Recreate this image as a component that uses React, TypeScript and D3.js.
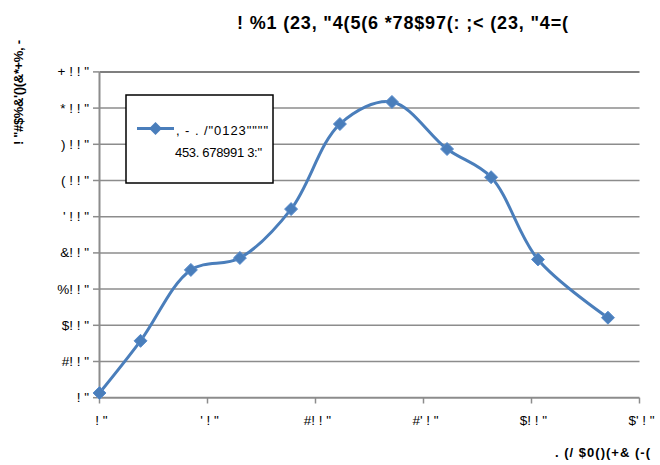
import React from "react";
import * as d3 from "d3";

const xValues = [0, 19, 42.3, 65, 88.7, 111.3, 135.4, 160.9, 181.3, 203, 235.4];
const yValues = [13, 157, 353, 386, 521, 756, 817, 687, 609, 382, 221];
const xTicks = [0, 50, 100, 150, 200, 250];
const xTickLabels = ['! "', '\' ! "', '#! ! "', '#\' ! "', '$! ! "', '$\' ! "'];
const yTicks = [0, 100, 200, 300, 400, 500, 600, 700, 800, 900];
const yTickLabels = ['! "', '#! ! "', '$! ! "', '%! ! "', '&! ! "', '\' ! ! "', '( ! ! "', ') ! ! "', '* ! ! "', '+ ! ! "'];
const titleText = '! %1 (23, "4(5(6 *78$97(: ;< (23, "4=(';
const yTitleText = '! "#$%&\'()(&*+%, -';
const xTitleText = '. (/ $0()(+& (-(';
const legendLine1 = ', - . /"0123""""';
const legendLine2 = '453. 678991 3:"';

export default function App() {
  const W = 660, H = 465;
  const x = d3.scaleLinear().domain([0, 250]).range([99.5, 639.5]);
  const y = d3.scaleLinear().domain([0, 900]).range([397.7, 71.9]);
  const pts: [number, number][] = xValues.map((v, i) => [x(v), y(yValues[i])]);
  const line = d3.line().curve(d3.curveCatmullRom.alpha(0.5))(pts) || "";
  const font = "'Liberation Sans', Arial, sans-serif";
  const blue = "#4A7EBB";
  const diamond = (cx: number, cy: number, r: number) =>
    `M${cx},${cy - r}L${cx + r},${cy}L${cx},${cy + r}L${cx - r},${cy}Z`;
  return (
    <svg width={W} height={H} style={{ position: "absolute", left: 0, top: 0, background: "#fff" }} fontFamily={font}>
      <rect width={W} height={H} fill="#fff" />
      <text x={237} y={29} fontSize={18} fontWeight="bold" fill="#000" textLength={331} lengthAdjust="spacing">{titleText}</text>
      <text transform="translate(23,145) rotate(-90)" fontSize={13} fontWeight="bold" fill="#000" textLength={105} lengthAdjust="spacing">{yTitleText}</text>
      <text x={555} y={457} fontSize={13} fontWeight="bold" fill="#000" textLength={95} lengthAdjust="spacing">{xTitleText}</text>
      {yTicks.map((t, i) => (
        <g key={"y" + t}>
          {i > 0 && <line x1={99.5} x2={639.5} y1={y(t)} y2={y(t)} stroke={i === yTicks.length - 1 ? "#555" : "#8c8c8c"} strokeWidth={1.5} />}
          <line x1={93} x2={99.5} y1={y(t)} y2={y(t)} stroke="#8c8c8c" strokeWidth={1.5} />
          <text x={89} y={y(t) + 4.5} textAnchor="end" fontSize={13.5} fill="#000">{yTickLabels[i]}</text>
        </g>
      ))}
      {xTicks.map((t, i) => (
        <g key={"x" + t}>
          <line x1={x(t)} x2={x(t)} y1={397.7} y2={403.5} stroke="#8c8c8c" strokeWidth={1.5} />
          <text x={x(t) + 2} y={425} textAnchor="middle" fontSize={13.5} fill="#000">{xTickLabels[i]}</text>
        </g>
      ))}
      <line x1={99.5} x2={99.5} y1={71.9} y2={397.7} stroke="#8c8c8c" strokeWidth={2} />
      <line x1={99.5} x2={639.5} y1={397.7} y2={397.7} stroke="#8c8c8c" strokeWidth={2} />
      <path d={line} fill="none" stroke={blue} strokeWidth={3} />
      {pts.map((p, i) => (
        <path key={i} d={diamond(p[0], p[1], 6.5)} fill={blue} stroke="#5a8dcc" strokeWidth={1} />
      ))}
      <rect x={126} y={95} width={147} height={88} fill="#fff" stroke="#000" strokeWidth={1.5} />
      <line x1={137} x2={174} y1={128.5} y2={128.5} stroke={blue} strokeWidth={3} />
      <path d={diamond(155.5, 128.5, 6.5)} fill={blue} />
      <text x={176} y={135} fontSize={13} fill="#000" textLength={92} lengthAdjust="spacing">{legendLine1}</text>
      <text x={175} y={157} fontSize={13} fill="#000" textLength={87} lengthAdjust="spacing">{legendLine2}</text>
    </svg>
  );
}
